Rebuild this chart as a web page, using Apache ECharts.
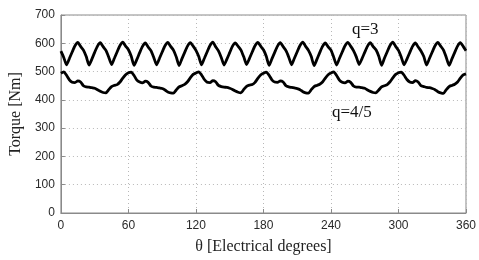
<!DOCTYPE html>
<html>
<head>
<meta charset="utf-8">
<script src="https://cdn.jsdelivr.net/npm/echarts@6/dist/echarts.min.js"></script>
<style>html,body{margin:0;padding:0;background:#fff}#c{width:479px;height:260px}</style>
</head>
<body>
<div id="c"></div>
<script>
var angles = [0,2.5,5,7.5,10,12.5,15,17.5,20,22.5,25,27.5,30,32.5,35,37.5,40,42.5,45,47.5,50,52.5,55,57.5,
60,62.5,65,67.5,70,72.5,75,77.5,80,82.5,85,87.5,90,92.5,95,97.5,100,102.5,105,107.5,110,112.5,115,117.5,
120,122.5,125,127.5,130,132.5,135,137.5,140,142.5,145,147.5,150,152.5,155,157.5,160,162.5,165,167.5,170,172.5,175,177.5,
180,182.5,185,187.5,190,192.5,195,197.5,200,202.5,205,207.5,210,212.5,215,217.5,220,222.5,225,227.5,230,232.5,235,237.5,
240,242.5,245,247.5,250,252.5,255,257.5,260,262.5,265,267.5,270,272.5,275,277.5,280,282.5,285,287.5,290,292.5,295,297.5,
300,302.5,305,307.5,310,312.5,315,317.5,320,322.5,325,327.5,330,332.5,335,337.5,340,342.5,345,347.5,350,352.5,355,357.5,360];

var torqueQ3 = [
572,550,524,546,569,591,603,589,
576,553,523,544,568,590,602,588,
575,551,525,547,570,592,604,590,
577,554,522,543,567,589,601,587,
574,550,524,546,569,591,603,589,
576,552,521,545,568,590,602,590,
575,553,524,547,570,592,604,588,
573,550,523,544,567,590,601,589,
576,552,525,546,569,591,603,590,
577,554,522,545,568,590,602,588,
574,551,524,547,570,592,604,589,
575,553,521,543,567,589,601,587,
576,550,523,546,569,591,603,590,
574,552,525,545,568,590,602,588,
577,554,522,547,570,592,604,589,
575,551,524,544,567,589,601,587,
573,553,523,546,569,591,603,590,
576,550,522,545,568,590,602,589,
574];

var torqueQ45 = [
494,499,487,471,462,461,467,463,450,446,445,443,441,436,430,426,425,436,447,451,454,463,477,489,
496,498,486,470,463,460,466,462,449,445,444,442,440,435,428,425,424,435,446,450,455,464,478,490,
495,499,488,472,462,461,468,464,451,447,445,444,441,437,431,427,425,437,448,452,454,462,476,488,
494,498,487,471,463,462,467,463,450,446,444,442,440,436,429,425,424,436,447,451,455,463,477,489,
495,499,486,470,462,460,466,462,449,445,445,443,441,435,430,426,425,435,446,450,454,464,478,490,
496,498,487,472,463,461,468,463,450,447,444,443,440,436,429,425,423,436,447,451,455,463,477,488,
492];

var xTicks = [0,60,120,180,240,300,360];
var yTicks = [0,100,200,300,400,500,600,700];
var labels = {q3:'q=3', q45:'q=4/5', x:'\u03b8 [Electrical degrees]', y:'Torque [Nm]'};

function pairs(xs, ys){ return xs.map(function(x,i){ return [x, ys[i]]; }); }

var chart = echarts.init(document.getElementById('c'), null, {renderer:'canvas'});
var gridLine = {show:true, lineStyle:{color:'#b8b8b8', type:[1,3], width:1}};
var tickFont = {color:'#2a2a2a', fontSize:12, fontFamily:'Liberation Sans, Arial, sans-serif'};
var titleFont = {fontFamily:'Liberation Serif, Times New Roman, serif', fontSize:16, color:'#222'};
chart.setOption({
  animation:false,
  backgroundColor:'#fff',
  grid:{left:60, right:11, top:15, bottom:43, show:true, borderColor:'#8a8a8a', borderWidth:1, containLabel:false},
  xAxis:{type:'value', min:xTicks[0], max:xTicks[xTicks.length-1], interval:60,
    name:labels.x, nameLocation:'middle', nameGap:26, nameTextStyle:titleFont,
    axisLine:{show:true, lineStyle:{color:'#8a8a8a', width:1}},
    axisTick:{show:true, inside:true, length:4, lineStyle:{color:'#8a8a8a'}},
    axisLabel:Object.assign({margin:7}, tickFont),
    splitLine:gridLine},
  yAxis:{type:'value', min:yTicks[0], max:yTicks[yTicks.length-1], interval:100,
    name:labels.y, nameLocation:'middle', nameGap:33, nameRotate:90, nameTextStyle:titleFont,
    axisLine:{show:true, lineStyle:{color:'#8a8a8a', width:1}},
    axisTick:{show:true, inside:true, length:4, lineStyle:{color:'#8a8a8a'}},
    axisLabel:Object.assign({margin:6}, tickFont),
    splitLine:gridLine},
  series:[
    {type:'line', name:labels.q3, data:pairs(angles, torqueQ3), showSymbol:false, smooth:0.2,
     lineStyle:{color:'#000', width:2.8}},
    {type:'line', name:labels.q45, data:pairs(angles, torqueQ45), showSymbol:false, smooth:0.2,
     lineStyle:{color:'#000', width:2.8}}
  ],
  graphic:[
    {type:'text', left:352, top:21, style:{text:labels.q3, font:'17px "Liberation Serif", serif', fill:'#111'}},
    {type:'text', left:332, top:104, style:{text:labels.q45, font:'17px "Liberation Serif", serif', fill:'#111'}}
  ]
});
</script>
</body>
</html>
